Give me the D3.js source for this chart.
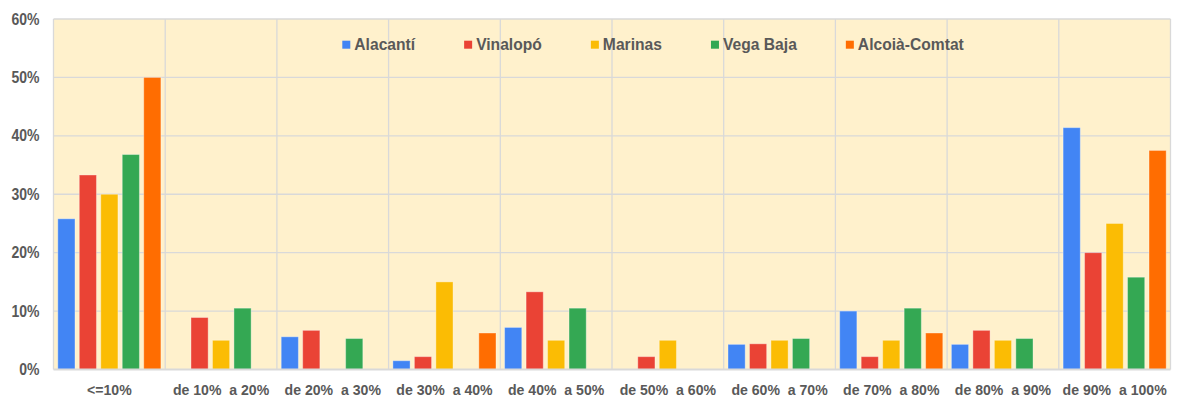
<!DOCTYPE html>
<html>
<head>
<meta charset="utf-8">
<script src="https://cdn.jsdelivr.net/npm/d3@7"></script>
<style>
  body { margin: 0; background: #fff; }
  text { font-family: "Liberation Sans", Arial, sans-serif; font-weight: bold; fill: #595959; white-space: pre; }
</style>
</head>
<body>
<svg id="chart"></svg>
<script>
// data (percent)
const categories = ["<=10%", "de 10%  a 20%", "de 20%  a 30%", "de 30%  a 40%", "de 40%  a 50%",
                    "de 50%  a 60%", "de 60%  a 70%", "de 70%  a 80%", "de 80%  a 90%", "de 90%  a 100%"];
const seriesNames = ["Alacantí", "Vinalopó", "Marinas", "Vega Baja", "Alcoià-Comtat"];
const alacanti = [25.8, 0, 5.6, 1.5, 7.2, 0, 4.3, 10.0, 4.3, 41.4];
const vinalopo = [33.3, 8.9, 6.7, 2.2, 13.3, 2.2, 4.4, 2.2, 6.7, 20.0];
const marinas  = [30.0, 5.0, 0, 15.0, 5.0, 5.0, 5.0, 5.0, 5.0, 25.0];
const vegaBaja = [36.8, 10.5, 5.3, 0, 10.5, 0, 5.3, 10.5, 5.3, 15.8];
const alcoia   = [50.0, 0, 0, 6.25, 0, 0, 0, 6.25, 0, 37.5];
const yTicks = [0, 10, 20, 30, 40, 50, 60];

const seriesValues = [alacanti, vinalopo, marinas, vegaBaja, alcoia];
const colors = ["#4285F4", "#EA4335", "#FBBC04", "#34A853", "#FF6D01"];

const W = 1177, H = 401;
const margin = {top: 19, right: 6.5, bottom: 31.5, left: 53.5};
const w = W - margin.left - margin.right;
const h = H - margin.top - margin.bottom;

const svg = d3.select('#chart').attr('width', W).attr('height', H);
const g = svg.append('g').attr('transform', `translate(${margin.left},${margin.top})`);

const x0 = d3.scaleBand().domain(categories).range([0, w]);
const x1 = d3.scaleBand().domain(seriesNames).range([0, x0.bandwidth()])
  .paddingInner(0.2).paddingOuter(0.2);
const y = d3.scaleLinear().domain([0, 60]).range([h, 0]);

g.append('rect').attr('width', w).attr('height', h).attr('fill', '#FFF1CC');

// horizontal grid
g.selectAll('.hgrid').data(yTicks.filter(d => d > 0)).join('line')
  .attr('x1', 0).attr('x2', w)
  .attr('y1', d => y(d)).attr('y2', d => y(d))
  .attr('stroke', '#D9D9D9').attr('stroke-width', 1.3);

// vertical grid at category bounds
const bounds = categories.map(c => x0(c)).concat([w]);
g.selectAll('.vgrid').data(bounds).join('line')
  .attr('x1', d => d).attr('x2', d => d)
  .attr('y1', 0).attr('y2', h)
  .attr('stroke', '#D9D9D9').attr('stroke-width', 1.3);

// bars
const rows = [];
categories.forEach((c, i) => {
  seriesNames.forEach((s, j) => rows.push({cat: c, name: s, v: seriesValues[j][i], color: colors[j]}));
});
g.selectAll('.bar').data(rows.filter(d => d.v > 0)).join('rect')
  .attr('x', d => x0(d.cat) + x1(d.name))
  .attr('y', d => y(d.v))
  .attr('width', x1.bandwidth())
  .attr('height', d => y(0) - y(d.v))
  .attr('fill', d => d.color)
  .attr('stroke', 'rgba(255,255,255,0.35)')
  .attr('stroke-width', 1);

// bottom axis line
g.append('line').attr('x1', 0).attr('x2', w).attr('y1', h).attr('y2', h)
  .attr('stroke', '#D9D9D9').attr('stroke-width', 2);

// y axis
const yAxis = g.append('g')
  .call(d3.axisLeft(y).tickValues(yTicks).tickFormat(d => d + '%').tickSize(0));
yAxis.select('.domain').remove();
yAxis.selectAll('text')
  .style('font-size', '16px')
  .attr('x', null)
  .attr('transform', 'translate(-14,0) scale(0.875,1)');

// x axis
const xAxis = g.append('g').attr('transform', `translate(0,${h})`)
  .call(d3.axisBottom(x0).tickSize(0).tickPadding(15));
xAxis.select('.domain').remove();
xAxis.selectAll('text')
  .style('font-size', '15px')
  .attr('transform', 'scale(0.94,1)');

// legend
const legend = g.append('g').attr('transform', `translate(0,${44.7 - margin.top})`);
let lx = 342.3 - margin.left;
seriesNames.forEach((s, j) => {
  const item = legend.append('g').attr('transform', `translate(${lx},0)`);
  item.append('rect').attr('x', 0).attr('y', -4).attr('width', 8).attr('height', 8).attr('fill', colors[j]);
  const t = item.append('text').attr('transform', 'translate(12,5.5) scale(0.92,1)')
    .style('font-size', '17px').text(s);
  const tw = t.node().getComputedTextLength() * 0.92;
  lx += 12 + tw + 49;
});
</script>
</body>
</html>
